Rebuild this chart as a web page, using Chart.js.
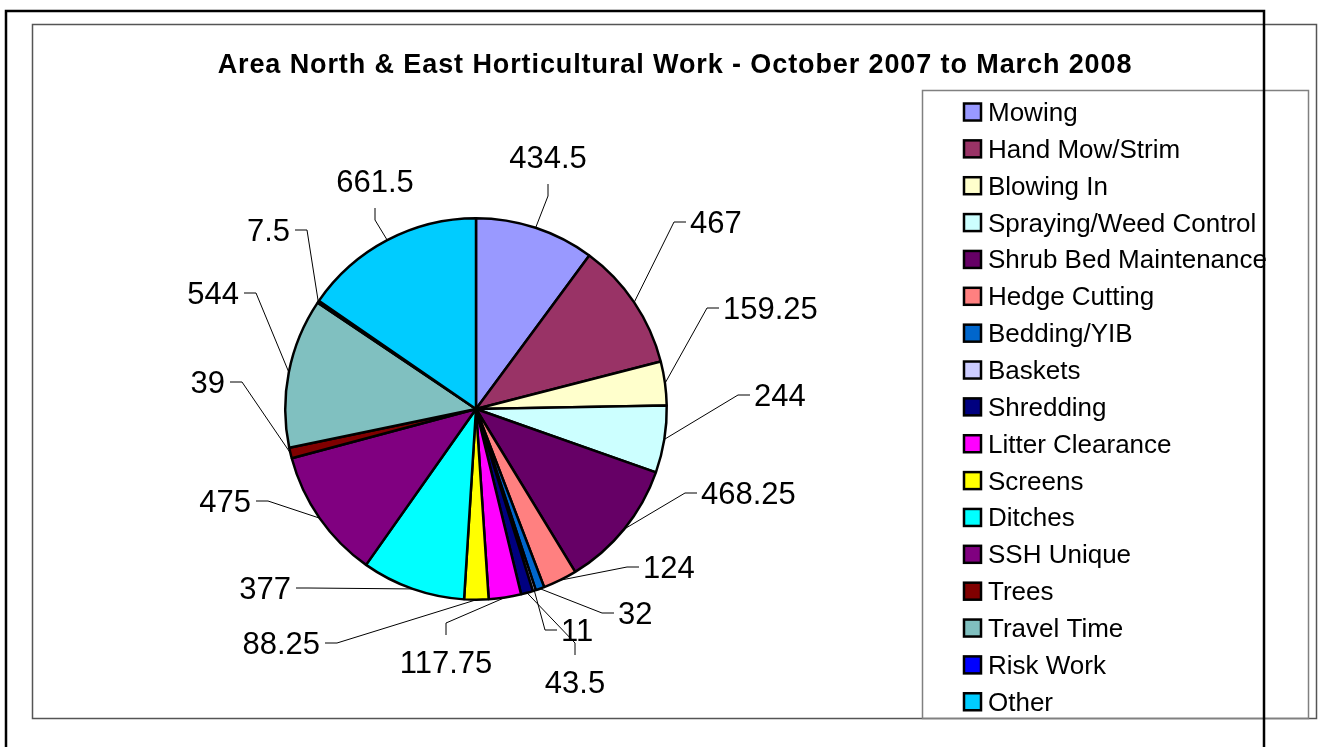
<!DOCTYPE html>
<html>
<head>
<meta charset="utf-8">
<script src="https://cdn.jsdelivr.net/npm/chart.js@4.4.1/dist/chart.umd.min.js"></script>
<style>
  html, body { margin: 0; padding: 0; background: #fff; overflow: hidden; }
</style>
</head>
<body>
<canvas id="pie" width="1321" height="747"></canvas>
<script>
const chartTitle = 'Area North & East Horticultural Work - October 2007 to March 2008';

const categories = [
  'Mowing', 'Hand Mow/Strim', 'Blowing In', 'Spraying/Weed Control',
  'Shrub Bed Maintenance', 'Hedge Cutting', 'Bedding/YIB', 'Baskets',
  'Shredding', 'Litter Clearance', 'Screens', 'Ditches', 'SSH Unique',
  'Trees', 'Travel Time', 'Risk Work', 'Other'
];
const hours = [
  434.5, 467, 159.25, 244, 468.25, 124, 32, 11,
  43.5, 117.75, 88.25, 377, 475, 39, 544, 7.5, 661.5
];
const sliceColors = [
  '#9999ff', '#993366', '#ffffcc', '#ccffff', '#660066', '#ff8080',
  '#0066cc', '#ccccff', '#000080', '#ff00ff', '#ffff00', '#00ffff',
  '#800080', '#800000', '#80c0c0', '#0000ff', '#00ccff'
];

// where each value label was dragged to (elbow of the leader line, px from pie centre)
// side: r/l = text right/left of elbow, b = text above, t = text below
const labelSpots = [
  [72, -213, 'b'], [198, -187, 'r'], [231, -101, 'r'], [262, -14, 'r'],
  [209, 84, 'r'], [151, 158, 'r'], [126, 204, 'r'], [69, 221, 'r'],
  [99, 234, 't'], [-30, 214, 't'], [-139, 234, 'l'], [-168, 179, 'l'],
  [-208, 92, 'l'], [-234, -27, 'l'], [-220, -116, 'l'], [-169, -179, 'l'],
  [-101, -189, 'b']
];

const FONT = '"Liberation Sans", Arial, sans-serif';

const excelLook = {
  id: 'excelLook',
  beforeDraw(chart){
    const ctx = chart.ctx;
    ctx.save();
    ctx.fillStyle = '#fff';
    ctx.fillRect(0, 0, chart.width, chart.height);
    ctx.restore();
  },
  afterDraw(chart){
    const ctx = chart.ctx;
    ctx.save();

    // chart area frame
    ctx.strokeStyle = '#555';
    ctx.lineWidth = 1.5;
    ctx.strokeRect(32.5, 24.5, 1284, 694);

    // title
    ctx.fillStyle = '#000';
    ctx.font = 'bold 27px ' + FONT;
    ctx.letterSpacing = '0.9px';
    ctx.textAlign = 'center';
    ctx.textBaseline = 'alphabetic';
    ctx.fillText(chartTitle, 675, 73);
    ctx.letterSpacing = '0px';

    // value labels with leader lines
    const meta = chart.getDatasetMeta(0);
    ctx.font = '31px ' + FONT;
    ctx.lineWidth = 1;
    ctx.strokeStyle = '#000';
    meta.data.forEach((arc, i) => {
      const p = arc.getProps(['x', 'y', 'startAngle', 'endAngle', 'outerRadius'], true);
      const mid = (p.startAngle + p.endAngle) / 2;
      const ax = p.x + p.outerRadius * Math.cos(mid);
      const ay = p.y + p.outerRadius * Math.sin(mid);
      const [dx, dy, side] = labelSpots[i];
      const ex = p.x + dx, ey = p.y + dy;
      let fx = ex, fy = ey;
      if(side === 'r') fx = ex + 12;
      if(side === 'l') fx = ex - 12;
      if(side === 'b') fy = ey - 12;
      if(side === 't') fy = ey + 12;
      ctx.beginPath();
      ctx.moveTo(ax, ay);
      ctx.lineTo(ex, ey);
      ctx.lineTo(fx, fy);
      ctx.stroke();
      const txt = String(hours[i]);
      if(side === 'r'){
        ctx.textAlign = 'left'; ctx.textBaseline = 'alphabetic';
        ctx.fillText(txt, fx + 4, fy + 11);
      } else if(side === 'l'){
        ctx.textAlign = 'right'; ctx.textBaseline = 'alphabetic';
        ctx.fillText(txt, fx - 5, fy + 11);
      } else if(side === 'b'){
        ctx.textAlign = 'center'; ctx.textBaseline = 'alphabetic';
        ctx.fillText(txt, fx, fy - 16);
      } else {
        ctx.textAlign = 'center'; ctx.textBaseline = 'alphabetic';
        ctx.fillText(txt, fx, fy + 38);
      }
    });

    // legend box
    ctx.strokeStyle = '#808080';
    ctx.lineWidth = 1.5;
    ctx.strokeRect(922.5, 90.5, 386, 628);
    ctx.font = '26px ' + FONT;
    ctx.textAlign = 'left';
    ctx.textBaseline = 'alphabetic';
    categories.forEach((name, i) => {
      const cy = 111.5 + i * 36.86;
      ctx.fillStyle = sliceColors[i];
      ctx.fillRect(964, cy - 8, 17, 17);
      ctx.strokeStyle = '#000';
      ctx.lineWidth = 2.5;
      ctx.strokeRect(964, cy - 8, 17, 17);
      ctx.fillStyle = '#000';
      ctx.fillText(name, 988, cy + 9.5);
    });

    // outer page frame
    ctx.strokeStyle = '#000';
    ctx.lineWidth = 2.5;
    ctx.strokeRect(6, 11, 1258, 800);
    ctx.restore();
  }
};

new Chart(document.getElementById('pie'), {
  type: 'pie',
  data: {
    labels: categories,
    datasets: [{
      data: hours,
      backgroundColor: sliceColors,
      borderColor: '#000',
      borderWidth: 2.5
    }]
  },
  options: {
    responsive: false,
    animation: false,
    layout: { padding: { top: 217, bottom: 146, left: 260, right: 629 } },
    plugins: {
      legend: { display: false },
      title: { display: false },
      tooltip: { enabled: false }
    }
  },
  plugins: [excelLook]
});
</script>
</body>
</html>
